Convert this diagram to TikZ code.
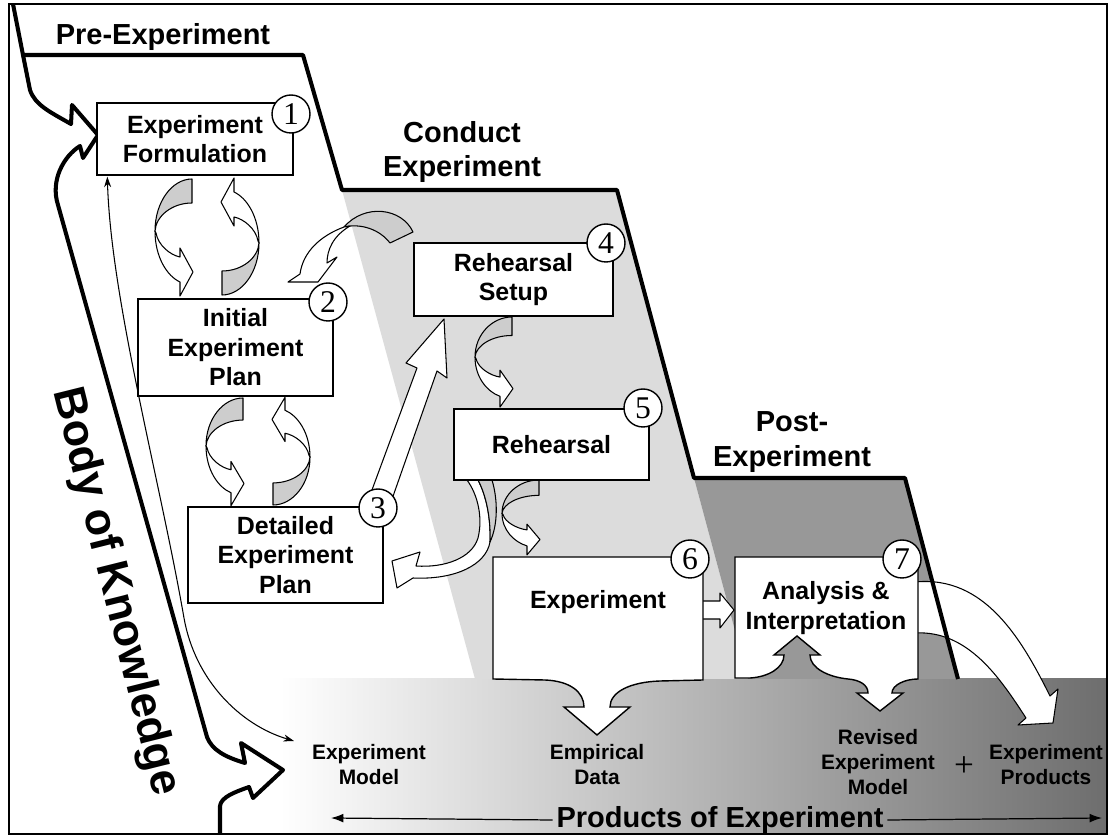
\documentclass[tikz,border=0pt]{standalone}
\usepackage{fontspec}
\setmainfont{Liberation Sans}
\newfontfamily\numfont{Liberation Serif}
\usetikzlibrary{arrows.meta,positioning,calc}
\definecolor{conductgray}{HTML}{DCDCDC}
\definecolor{postgray}{HTML}{989898}
\definecolor{backgray}{HTML}{CDCDCD}

\begin{document}
\begin{tikzpicture}[x=0.02cm,y=-0.02cm,
  boxline/.style={draw,fill=white,line width=0.8pt},
  boxtext/.style={align=center,inner sep=0pt,font=\bfseries\fontsize{14.2}{16.8}\selectfont},
  box/.style={boxline,boxtext},
  num/.style={draw,circle,fill=white,line width=0.8pt,minimum size=0.76cm,inner sep=0pt,font=\numfont\fontsize{18}{18}\selectfont},
  phase/.style={align=center,inner sep=2pt,font=\bfseries\fontsize{16.5}{19.8}\selectfont},
  outcome/.style={align=center,inner sep=1pt,font=\bfseries\fontsize{11.9}{14.2}\selectfont},
  bound/.style={line width=2.3pt,line join=round},
  blockarrow/.style={draw,fill=white,line width=0.6pt,line join=round},
  backside/.style={draw,fill=backgray,line width=0.6pt,line join=round},
  curl/.pic={
    \draw[backside] (0,0) .. controls (-20,0) and (-37,23) .. (-37,52) .. controls (-36,37) and (-20,24) .. (0,24) -- cycle;
    \draw[blockarrow] (-37,52) .. controls (-37,78) and (-25,97) .. (-12,103) -- (-12,117) -- (1,93) -- (-12,69) -- (-12,78) .. controls (-22,76) and (-34,66) .. (-36,54) -- cycle;
  }]
  \useasboundingbox (0,0) rectangle (1110,837);
  \fill[white] (0,0) rectangle (1110,837);
  \shade[left color=white,right color=black!57] (280,679) rectangle (1107,834);
  \fill[conductgray] (342,190) -- (617,190) -- (694,478) -- (748,679) -- (475,679) -- cycle;
  \fill[postgray] (694,478) -- (905,478) -- (958,679) -- (748,679) -- cycle;
  \draw[blockarrow] (915,582) .. controls (985,575) and (1022,640) .. (1050,696) -- (1058,689) -- (1053,723) -- (1018,725) -- (1026,718) .. controls (1000,678) and (968,630) .. (915,633) -- cycle;
  \draw[bound] (23,55) -- (303,55) -- (342,190) -- (617,190) -- (694,478) -- (905,478) -- (958,679);
  \draw[bound] (13,4) -- (23,55) -- (30,90) .. controls (35,105) and (50,112) .. (71,124) -- (72,105) -- (98,135) -- (83,158) -- (80,146) .. controls (64,156) and (50,180) .. (58,205) -- (207,737) .. controls (212,750) and (225,757) .. (245,763) -- (241,743) -- (283,770) -- (253,798) -- (249,787) .. controls (235,792) and (221,797) .. (220,806) -- (220,834);
  \coordinate (modeltip) at (294,741);
  \coordinate (prodL) at (331,818);
  \coordinate (prodR) at (1102,818);
  \pic at (192,179) {curl};
  \pic[rotate=180] at (222,295) {curl};
  \pic[yscale=0.92] at (243,398) {curl};
  \pic[rotate=180,yscale=0.92] at (273,505) {curl};
  \pic[yscale=0.77] at (512,317) {curl};
  \pic[yscale=0.64] at (539,480) {curl};
  \draw[backside] (413,232) .. controls (402,208) and (365,203) .. (344,227) .. controls (362,223) and (380,230) .. (390,243) -- cycle;
  \draw[blockarrow] (344,227) .. controls (320,236) and (303,252) .. (300,274) -- (288,282) -- (318,282) -- (337,257) -- (327,263) .. controls (327,250) and (333,236) .. (350,226) -- cycle;
  \draw[blockarrow] (467,480) -- (478,480) .. controls (486,495) and (491,518) .. (490,542) .. controls (486,565) and (455,580) .. (413,578) -- (397,588) -- (392,561) -- (420,552) -- (416,566) .. controls (445,568) and (472,558) .. (478,538) .. controls (483,518) and (478,495) .. (467,480) -- cycle;
  \draw[backside] (478,480) -- (492,480) .. controls (498,500) and (498,525) .. (490,542) .. controls (491,518) and (486,495) .. (478,480) -- cycle;
  \draw[blockarrow] (369,498) -- (417,368) -- (406,363) -- (444,319) -- (447,378) -- (437,371) -- (391,502) -- cycle;
  \draw[blockarrow] (700,601) -- (720,601) -- (720,593) -- (734,610) -- (720,628) -- (720,619) -- (700,619) -- cycle;
  \node[box,minimum width=3.92cm,minimum height=1.44cm] (formul) at (195,139) {Experiment\\Formulation};
  \node[box,minimum width=3.90cm,minimum height=1.94cm] (initplan) at (235.5,347.5) {Initial\\Experiment\\Plan};
  \node[box,minimum width=3.90cm,minimum height=1.92cm] (detplan) at (285.5,555) {Detailed\\Experiment\\Plan};
  \node[box,minimum width=3.98cm,minimum height=1.46cm] (rehsetup) at (513.5,279.5) {Rehearsal\\Setup};
  \node[box,minimum width=3.90cm,minimum height=1.42cm] (rehearsal) at (551.5,444.5) {Rehearsal};
  \draw[boxline] (493,557) -- (703,557) -- (703,680) -- (660,681) .. controls (630,682) and (610,692) .. (610,707) -- (630,707) -- (597,735) -- (564,707) -- (584,707) .. controls (584,692) and (570,681) .. (545,680) -- (493,679) -- cycle;
  \draw[boxline] (735,557) -- (918,557) -- (918,679) .. controls (905,679) and (892,685) .. (892,693) -- (903,693) -- (880,711) -- (857,693) -- (868,693) .. controls (868,685) and (860,680) .. (848,679) .. controls (828,677) and (810,668) .. (810,655) -- (820,655) -- (797,636) -- (774,655) -- (784,655) .. controls (784,668) and (768,677) .. (750,678) -- (735,678) -- cycle;
  \node[boxtext] (experiment) at (598,602) {Experiment};
  \node[boxtext] (analysis) at (826,608) {Analysis \&\\Interpretation};
  \draw[line width=0.6pt,{Stealth[length=6pt,width=4pt]}-{Stealth[length=6pt,width=4pt]}] ($(formul.south west)+(11,1)$) .. controls (111,300) and (160,480) .. (184,618) .. controls (195,680) and (240,725) .. (modeltip);
  \node[num] (c1) at (291,114) {1};
  \node[num] (c2) at (328,302) {2};
  \node[num] (c3) at (378,508) {3};
  \node[num] (c4) at (606,243) {4};
  \node[num] (c5) at (643,408) {5};
  \node[num] (c6) at (690,559) {6};
  \node[num] (c7) at (902,559) {7};
  \node[phase] (pre) at (163,37) {Pre-Experiment};
  \node[phase] (conduct) at (462,152) {Conduct\\Experiment};
  \node[phase] (post) at (792,442) {Post-\\Experiment};
  \node[phase] (prodlbl) at (720,820) {Products of Experiment};
  \node[font=\bfseries\fontsize{25.5}{25.5}\selectfont,rotate=-76,inner sep=0pt] (body) at (115,592) {Body of Knowledge};
  \node[outcome] (expmodel) at (369,765) {Experiment\\Model};
  \node[outcome] (empdata) at (597,765) {Empirical\\Data};
  \node[outcome] (revmodel) at (878,762) {Revised\\Experiment\\Model};
  \node[font=\numfont\fontsize{20}{20}\selectfont] (plus) at (964,767) {+};
  \node[outcome] (expprod) at (1046,765) {Experiment\\Products};
  \draw[line width=0.7pt,-{Latex[length=7pt,width=5pt]}] (prodlbl.west) -- (prodL);
  \draw[line width=0.7pt,-{Latex[length=7pt,width=5pt]}] (prodlbl.east) -- (prodR);
  \draw[line width=1.4pt] (9,4) rectangle (1107,834);
\end{tikzpicture}
\end{document}
